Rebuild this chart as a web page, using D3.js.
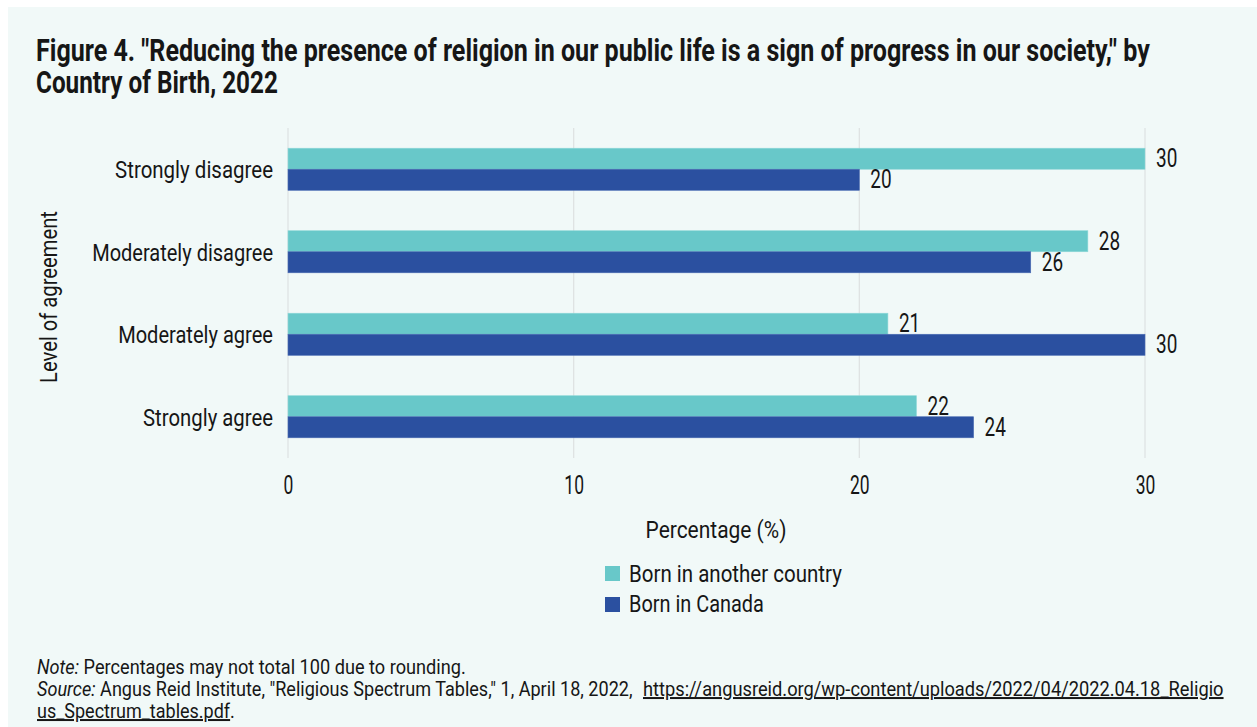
<!DOCTYPE html>
<html>
<head>
<meta charset="utf-8">
<script src="https://cdn.jsdelivr.net/npm/d3@7"></script>
<style>
  body { margin: 0; background: #fff; }
  svg text { font-family: Roboto, "Noto Sans", sans-serif; fill: #161616; }
</style>
</head>
<body>
<div id="chart"></div>
<script>
const categories = ["Strongly disagree", "Moderately disagree", "Moderately agree", "Strongly agree"];
const seriesNames = ["Born in another country", "Born in Canada"];
const bornElsewhere = [30, 28, 21, 22];
const bornCanada = [20, 26, 30, 24];
const xTicks = [0, 10, 20, 30];
const colors = ["#68c8c9", "#2b50a0"];

// widths the labels take in the picture (the source uses a condensed face)
const catLabelWidths = [158, 181, 155, 130];
const legendWidths = [213, 135];

const width = 1257, height = 727;
const margin = {top: 128, left: 288};
const innerWidth = 857, innerHeight = 330;

const svg = d3.select("#chart").append("svg")
  .attr("width", width)
  .attr("height", height);

// panel background
svg.append("rect")
  .attr("x", 8).attr("y", 7)
  .attr("width", width - 8).attr("height", height - 7)
  .attr("fill", "#f1f9f8");

// narrow a text horizontally around its anchor point
// w: target width in px, or a ratio (< 1.5) of the natural width
function squeeze(sel, w) {
  sel.each(function(d, i) {
    const t = d3.select(this);
    const target = typeof w === "function" ? w(d, i) : w;
    const len = this.getComputedTextLength();
    const k = target < 1.5 ? target : target / len;
    const x0 = +t.attr("x") || 0;
    t.attr("transform", `translate(${x0},0) scale(${k},1) translate(${-x0},0)`);
  });
}

// Title
const title = svg.append("g").attr("class", "title")
  .style("font-size", "31px").style("font-weight", "bold");
title.append("text")
  .attr("x", 36).attr("y", 61)
  .text("Figure 4. \"Reducing the presence of religion in our public life is a sign of progress in our society,\" by")
  .call(squeeze, 1114);
title.append("text")
  .attr("x", 36).attr("y", 93)
  .text("Country of Birth, 2022")
  .call(squeeze, 242);

const x = d3.scaleLinear().domain([0, 30]).range([0, innerWidth]);
const y0 = d3.scaleBand().domain(categories).range([0, innerHeight])
  .paddingInner(0.49).paddingOuter(0.245);
const y1 = d3.scaleBand().domain(seriesNames).range([0, y0.bandwidth()]);

const g = svg.append("g").attr("transform", `translate(${margin.left},${margin.top})`);

// gridlines
g.append("g")
  .selectAll("line")
  .data(xTicks)
  .join("line")
  .attr("x1", d => x(d)).attr("x2", d => x(d))
  .attr("y1", 0).attr("y2", innerHeight)
  .attr("stroke", "#dfe3e3").attr("stroke-width", 1.3);

const rows = categories.map((c, i) => ({
  cat: c,
  values: [bornElsewhere[i], bornCanada[i]]
}));

const groups = g.selectAll(".row")
  .data(rows)
  .join("g")
  .attr("class", "row")
  .attr("transform", d => `translate(0,${y0(d.cat)})`);

groups.selectAll("rect")
  .data(d => d.values.map((v, j) => ({series: seriesNames[j], value: v, j})))
  .join("rect")
  .attr("x", x(0))
  .attr("y", d => y1(d.series))
  .attr("width", d => x(d.value) - x(0))
  .attr("height", y1.bandwidth())
  .attr("fill", d => colors[d.j])
  .attr("stroke", d => d.j === 0 ? "#8fd8d8" : "#4a6cb4")
  .attr("stroke-width", 0.6);

groups.selectAll(".val")
  .data(d => d.values.map((v, j) => ({series: seriesNames[j], value: v})))
  .join("text")
  .attr("class", "val")
  .attr("x", d => x(d.value) + 11)
  .attr("y", d => y1(d.series) + y1.bandwidth() / 2 + 8.5)
  .style("font-size", "25px")
  .text(d => d.value)
  .call(squeeze, 0.76);

// y axis labels
const yAxis = d3.axisLeft(y0).tickSize(0).tickPadding(15);
const yAxisG = g.append("g").call(yAxis);
yAxisG.select(".domain").remove();
yAxisG.selectAll("text")
  .style("font-size", "24px")
  .attr("fill", null)
  .attr("dy", "0.38em")
  .call(squeeze, (d, i) => catLabelWidths[i]);

// x axis labels
const xAxis = d3.axisBottom(x).tickValues(xTicks).tickSize(0).tickPadding(18);
const xAxisG = g.append("g").attr("transform", `translate(0,${innerHeight})`).call(xAxis);
xAxisG.select(".domain").remove();
xAxisG.selectAll("text")
  .style("font-size", "25px")
  .attr("fill", null)
  .call(squeeze, 0.7);

// axis titles
svg.append("text")
  .attr("x", 716).attr("y", 538)
  .attr("text-anchor", "middle")
  .style("font-size", "24px")
  .text("Percentage (%)")
  .call(squeeze, 141);

svg.append("g")
  .attr("transform", "translate(57,297) rotate(-90)")
  .append("text")
  .attr("text-anchor", "middle")
  .style("font-size", "24px")
  .text("Level of agreement")
  .call(squeeze, 172);

// legend
const legend = svg.append("g").attr("transform", "translate(605,566)");
seriesNames.forEach((s, i) => {
  legend.append("rect")
    .attr("x", 0).attr("y", i * 31)
    .attr("width", 15).attr("height", 15)
    .attr("fill", colors[i]);
  legend.append("text")
    .attr("x", 24).attr("y", i * 30 + 16)
    .style("font-size", "24px")
    .text(s)
    .call(squeeze, legendWidths[i]);
});

// notes
const notes = svg.append("g").style("font-size", "20px");
const n1 = notes.append("text").attr("x", 37).attr("y", 674);
n1.append("tspan").style("font-style", "italic").text("Note:");
n1.append("tspan").text(" Percentages may not total 100 due to rounding.");
n1.call(squeeze, 429);

const n2 = notes.append("text").attr("x", 37).attr("y", 696);
n2.append("tspan").style("font-style", "italic").text("Source:");
n2.append("tspan").text(" Angus Reid Institute, \"Religious Spectrum Tables,\" 1, April 18, 2022,");
n2.call(squeeze, 596);

notes.append("text").attr("x", 643).attr("y", 696)
  .style("text-decoration", "underline")
  .text("https://angusreid.org/wp-content/uploads/2022/04/2022.04.18_Religio")
  .call(squeeze, 581);

const n3 = notes.append("text").attr("x", 37).attr("y", 718);
n3.append("tspan").style("text-decoration", "underline").text("us_Spectrum_tables.pdf");
n3.append("tspan").text(".");
n3.call(squeeze, 198);
</script>
</body>
</html>
